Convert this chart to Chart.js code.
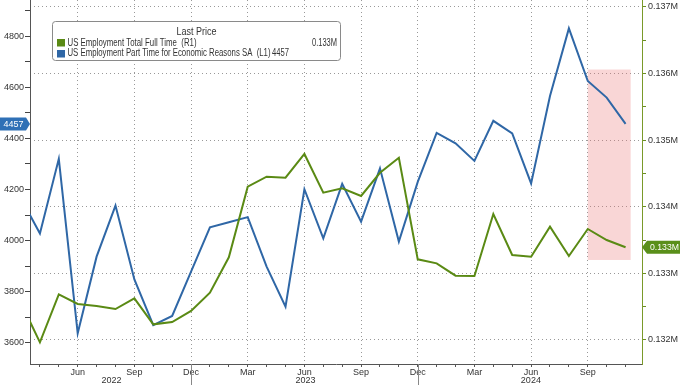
<!DOCTYPE html>
<html><head><meta charset="utf-8">
<script src="https://cdn.jsdelivr.net/npm/chart.js@4.4.1/dist/chart.umd.min.js"></script>
<style>html,body{margin:0;padding:0;background:#fff}#wrap{width:680px;height:385px;position:relative}</style>
</head><body><div id="wrap"><canvas id="c" width="680" height="385"></canvas></div>
<script>
// ---------------- DATA ----------------
const months = ['2022-03','2022-04','2022-05','2022-06','2022-07','2022-08','2022-09','2022-10','2022-11','2022-12',
  '2023-01','2023-02','2023-03','2023-04','2023-05','2023-06','2023-07','2023-08','2023-09','2023-10','2023-11','2023-12',
  '2024-01','2024-02','2024-03','2024-04','2024-05','2024-06','2024-07','2024-08','2024-09','2024-10','2024-11'];
// US Employment Part Time for Economic Reasons SA (thousands, left axis)
const partTime = [4165,4028,4320,3637,3937,4137,3848,3669,3705,3878,
  4052,4072,4092,3898,3741,4201,4009,4222,4074,4283,3996,4230,
  4422,4381,4312,4469,4420,4224,4566,4831,4625,4560,4457];
// US Employment Total Full Time (thousands, right axis)
const fullTime = [132557,131965,132686,132541,132511,132465,132626,132235,132270,132436,
  132710,133241,134302,134452,134437,134793,134212,134277,134162,134510,134737,133211,
  133151,132966,132961,133892,133276,133251,133701,133261,133667,133501,133392];
const leftTickValues = [3600,3800,4000,4200,4400,4600,4800];
const leftMinorTicks = [3600,3700,3800,3900,4000,4100,4200,4300,4400,4500,4600,4700,4800,4900];
const rightTickValues = [132000,133000,134000,135000,136000,137000];
const rightMinorTicks = [132000,132500,133000,133500,134000,134500,135000,135500,136000,136500,137000];
const quarterNames = {2:'Mar',5:'Jun',8:'Sep',11:'Dec'};
const yearLabels = ['2022','2023','2024'];
const legendTitle = 'Last Price';
const seriesNames = ['US Employment Total Full Time  (R1)','US Employment Part Time for Economic Reasons SA  (L1)'];
const lastLabels = ['0.133M','4457'];
const highlightMonths = ['2024-09', 34.27];      // x range (month index units)
const highlightLeftRange = [3924, 4670];          // y range on left axis

// ---------------- HELPERS ----------------
const toIdx = s => { const [y,m] = s.split('-').map(Number); return (y-2022)*12 + (m-1); };
const xs = months.map(toIdx);
const monthTicks = []; for (let m = 3; m <= 34; m++) monthTicks.push(m);
const GREEN = '#5a8a14', BLUE = '#2f67a6';
const FONT = "'Liberation Sans','Arial',sans-serif";
Chart.defaults.font.family = FONT;
Chart.defaults.font.size = 9;
Chart.defaults.color = '#333';

function zeroPad(s){ s.paddingTop=0; s.paddingBottom=0; s.paddingLeft=0; s.paddingRight=0; }
const isQuarter = v => Number.isInteger(v) && (((v%12)+12)%12) in quarterNames;
const setTicks = arr => s => { s.ticks = arr.map(v => ({value: v})); };

const overlay = {
  id:'overlay',
  beforeDatasetsDraw(chart){
    const {ctx} = chart, x = chart.scales.x, yL = chart.scales.yL;
    const x0 = x.getPixelForValue(toIdx(highlightMonths[0])), x1 = x.getPixelForValue(highlightMonths[1]);
    const y0 = yL.getPixelForValue(highlightLeftRange[1]), y1 = yL.getPixelForValue(highlightLeftRange[0]);
    ctx.save(); ctx.fillStyle = 'rgba(235,120,120,0.3)'; ctx.fillRect(x0, y0, x1-x0, y1-y0); ctx.restore();
  },
  afterDraw(chart){
    const {ctx, chartArea:ca} = chart, x = chart.scales.x, yL = chart.scales.yL, yR = chart.scales.yR;
    ctx.save();
    // year dividers + labels
    const divs = [11, 23].map(v => x.getPixelForValue(v));
    ctx.strokeStyle = '#888'; ctx.lineWidth = 1;
    divs.forEach(d => { ctx.beginPath(); ctx.moveTo(Math.round(d)+0.5, ca.bottom); ctx.lineTo(Math.round(d)+0.5, 385); ctx.stroke(); });
    const bounds = [ca.left, ...divs, ca.right];
    ctx.fillStyle = '#333'; ctx.font = '9px ' + FONT; ctx.textAlign = 'center'; ctx.textBaseline = 'middle';
    yearLabels.forEach((t,i) => ctx.fillText(t, (bounds[i]+bounds[i+1])/2 + 1, 381));
    // left value tag
    const yb = yL.getPixelForValue(partTime[partTime.length-1]);
    ctx.fillStyle = '#2f70b6';
    ctx.beginPath(); ctx.moveTo(0, yb-6.5); ctx.lineTo(26, yb-6.5); ctx.lineTo(30, yb); ctx.lineTo(26, yb+6.5); ctx.lineTo(0, yb+6.5); ctx.closePath(); ctx.fill();
    ctx.fillStyle = '#fff'; ctx.textAlign = 'center'; ctx.fillText(lastLabels[1], 13.5, yb+0.5, 22);
    // right value tag
    const yg = yR.getPixelForValue(fullTime[fullTime.length-1]);
    const rx = ca.right;
    ctx.fillStyle = '#5a8f1a';
    ctx.beginPath(); ctx.moveTo(rx, yg); ctx.lineTo(rx+5, yg-6.5); ctx.lineTo(680, yg-6.5); ctx.lineTo(680, yg+6.5); ctx.lineTo(rx+5, yg+6.5); ctx.closePath(); ctx.fill();
    ctx.fillStyle = '#fff'; ctx.textAlign = 'left'; ctx.fillText(lastLabels[0], rx+8, yg+0.5, 29);
    // legend box
    const bx = 52.5, by = 21.5, bw = 288, bh = 39, r = 3;
    ctx.fillStyle = '#fff'; ctx.strokeStyle = '#8a8a8a'; ctx.lineWidth = 1;
    ctx.beginPath();
    ctx.moveTo(bx+r, by); ctx.lineTo(bx+bw-r, by); ctx.quadraticCurveTo(bx+bw, by, bx+bw, by+r);
    ctx.lineTo(bx+bw, by+bh-r); ctx.quadraticCurveTo(bx+bw, by+bh, bx+bw-r, by+bh);
    ctx.lineTo(bx+r, by+bh); ctx.quadraticCurveTo(bx, by+bh, bx, by+bh-r);
    ctx.lineTo(bx, by+r); ctx.quadraticCurveTo(bx, by, bx+r, by); ctx.closePath(); ctx.fill(); ctx.stroke();
    ctx.fillStyle = '#333'; ctx.font = '10px ' + FONT; ctx.textAlign = 'center';
    ctx.fillText(legendTitle, bx + bw/2, 32.5, 40);
    ctx.fillStyle = GREEN; ctx.fillRect(57, 39, 8, 7.5);
    ctx.fillStyle = BLUE; ctx.fillRect(57, 50, 8, 7.5);
    ctx.fillStyle = '#333'; ctx.textAlign = 'left';
    ctx.fillText(seriesNames[0], 67.5, 43, 129);
    ctx.fillText(seriesNames[1], 67.5, 53.5, 203);
    ctx.textAlign = 'right';
    ctx.fillText(lastLabels[1], 289, 53.5, 17);
    ctx.fillText(lastLabels[0], 337, 43, 25);
    ctx.restore();
  }
};

new Chart(document.getElementById('c'), {
  type: 'line',
  data: { datasets: [
    { label: seriesNames[0], data: xs.map((x,i)=>({x, y: fullTime[i]})), yAxisID:'yR', borderColor: GREEN, borderWidth: 2, pointRadius: 0, tension: 0 },
    { label: seriesNames[1], data: xs.map((x,i)=>({x, y: partTime[i]})), yAxisID:'yL', borderColor: BLUE, borderWidth: 2, pointRadius: 0, tension: 0 }
  ]},
  options: {
    responsive: false, animation: false,
    layout: { padding: 0 },
    plugins: { legend: { display: false }, tooltip: { enabled: false } },
    scales: {
      x: {
        type: 'linear', position: 'bottom', min: 2.475, max: 34.87,
        afterBuildTicks: setTicks(monthTicks),
        afterFit: s => { s.height = 21; zeroPad(s); },
        ticks: { autoSkip: false, maxRotation: 0, minRotation: 0, padding: 0, color: '#333',
          callback: v => isQuarter(v) ? quarterNames[((v%12)+12)%12] : '' },
        grid: { drawOnChartArea: true, color: c => (c.tick && isQuarter(c.tick.value)) ? '#999' : 'rgba(0,0,0,0)',
          tickColor: '#555', tickLength: 3, lineWidth: 1 },
        border: { color: '#555', width: 1, dash: [1,3] }
      },
      yL: {
        type: 'linear', position: 'left', min: 3516.6, max: 4942.2,
        afterBuildTicks: setTicks(leftMinorTicks),
        afterFit: s => { s.width = 30; zeroPad(s); },
        ticks: { autoSkip: false, padding: 1, color: '#333',
          callback: v => leftTickValues.includes(v) ? String(v) : '' },
        grid: { drawOnChartArea: false, tickColor: '#444', tickLength: 5 },
        border: { color: '#555', width: 1 }
      },
      yR: {
        type: 'linear', position: 'right', min: 131639.6, max: 137105,
        afterBuildTicks: setTicks(rightMinorTicks),
        afterFit: s => { s.width = 38; zeroPad(s); },
        ticks: { autoSkip: false, padding: 2, color: '#333',
          callback: v => rightTickValues.includes(v) ? (v/1e6).toFixed(3) + 'M' : '' },
        grid: { drawOnChartArea: true, color: c => (c.tick && rightTickValues.includes(c.tick.value)) ? '#999' : 'rgba(0,0,0,0)',
          tickColor: '#6b8e23', tickLength: 4 },
        border: { color: '#7a9a2a', width: 1, dash: [1,3] }
      }
    }
  },
  plugins: [overlay]
});
</script></body></html>
